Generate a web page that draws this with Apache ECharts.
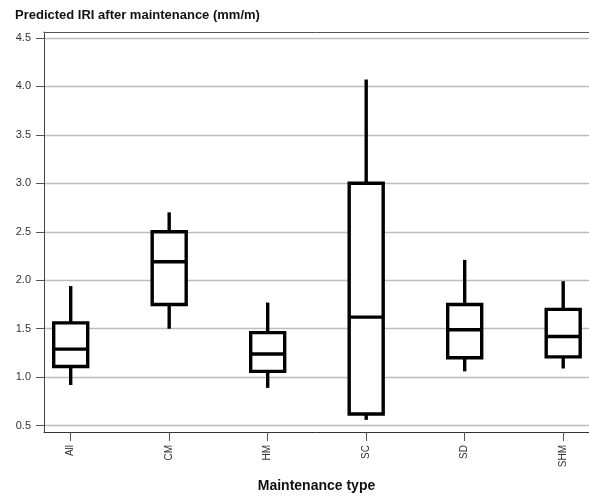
<!DOCTYPE html>
<html>
<head>
<meta charset="utf-8">
<script src="https://cdn.jsdelivr.net/npm/echarts@6/dist/echarts.min.js"></script>
<style>
html,body{margin:0;padding:0;background:#fff;}
#chart{width:589px;height:498px;}
</style>
</head>
<body>
<div id="chart"></div>
<script>
const categories = ['All', 'CM', 'HM', 'SC', 'SD', 'SHM'];
const whiskerLow = [0.92, 1.50, 0.89, 0.56, 1.06, 1.09];
const q1 = [1.11, 1.75, 1.06, 0.62, 1.20, 1.21];
const median = [1.29, 2.19, 1.24, 1.62, 1.49, 1.42];
const q3 = [1.56, 2.50, 1.46, 3.00, 1.75, 1.70];
const whiskerHigh = [1.94, 2.70, 1.77, 4.07, 2.21, 1.99];
const yTicks = [0.5, 1.0, 1.5, 2.0, 2.5, 3.0, 3.5, 4.0, 4.5];
const xTicks = [0, 1, 2, 3, 4, 5];

const boxData = categories.map((c, i) => [i, whiskerLow[i], q1[i], median[i], q3[i], whiskerHigh[i]]);

const chart = echarts.init(document.getElementById('chart'), null, {renderer: 'canvas'});
const lineStyle = {stroke: '#000', lineWidth: 3.4, fill: null, lineCap: 'butt'};

chart.setOption({
  animation: false,
  backgroundColor: '#fff',
  title: {
    text: 'Predicted IRI after maintenance (mm/m)',
    left: 10, top: 4,
    textStyle: {fontFamily: 'Liberation Sans, Arial', fontSize: 13, fontWeight: 'bold', color: '#111'}
  },
  grid: {left: 44, right: 0, top: 32, bottom: 65, containLabel: false},
  xAxis: [{
    type: 'value',
    min: -0.271, max: 5.262,
    name: 'Maintenance type',
    nameLocation: 'middle',
    nameGap: 47,
    nameTextStyle: {fontFamily: 'Liberation Sans, Arial', fontSize: 14, fontWeight: 'bold', color: '#111'},
    axisLine: {show: true, onZero: false, lineStyle: {color: '#333', width: 1}},
    axisTick: {show: true, length: 9, customValues: xTicks, lineStyle: {color: '#555'}},
    axisLabel: {
      customValues: xTicks, rotate: 90, margin: 13,
      fontFamily: 'Liberation Sans, Arial', fontSize: 10, color: '#333',
      formatter: v => categories[Math.round(v)] || ''
    },
    splitLine: {show: false}
  }, {
    type: 'value', position: 'top',
    min: -0.271, max: 5.262,
    axisLine: {show: true, onZero: false, lineStyle: {color: '#555', width: 1}},
    axisTick: {show: false}, axisLabel: {show: false}, splitLine: {show: false}
  }],
  yAxis: {
    type: 'value',
    min: 0.435, max: 4.56,
    axisLine: {show: true, onZero: false, lineStyle: {color: '#444', width: 1}},
    axisTick: {show: true, length: 8, customValues: yTicks, lineStyle: {color: '#555'}},
    axisLabel: {
      customValues: yTicks, margin: 13,
      fontFamily: 'Liberation Sans, Arial', fontSize: 11, color: '#333',
      formatter: v => v.toFixed(1)
    },
    splitLine: {show: true, lineStyle: {color: '#bdbdbd', width: 1.3}}
  },
  series: [{
    type: 'custom',
    xAxisIndex: 0,
    data: boxData,
    encode: {x: 0, y: [1, 2, 3, 4, 5]},
    renderItem: function (params, api) {
      const x = api.value(0);
      const pLow = api.coord([x, api.value(1)]);
      const pQ1 = api.coord([x, api.value(2)]);
      const pMed = api.coord([x, api.value(3)]);
      const pQ3 = api.coord([x, api.value(4)]);
      const pHigh = api.coord([x, api.value(5)]);
      const half = 17;
      const cx = pMed[0];
      return {
        type: 'group',
        children: [
          {type: 'line', shape: {x1: cx, y1: pHigh[1], x2: cx, y2: pQ3[1]}, style: lineStyle},
          {type: 'line', shape: {x1: cx, y1: pQ1[1], x2: cx, y2: pLow[1]}, style: lineStyle},
          {type: 'rect', shape: {x: cx - half, y: pQ3[1], width: half * 2, height: pQ1[1] - pQ3[1]}, style: {stroke: '#000', lineWidth: 3.4, fill: '#fff'}},
          {type: 'line', shape: {x1: cx - half, y1: pMed[1], x2: cx + half, y2: pMed[1]}, style: lineStyle}
        ]
      };
    }
  }]
});
</script>
</body>
</html>
